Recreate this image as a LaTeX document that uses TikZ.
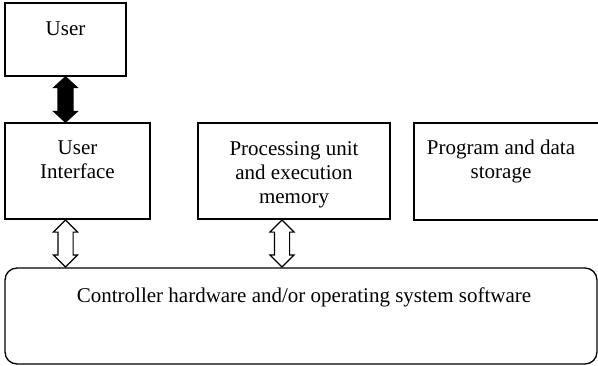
\documentclass[tikz,border=0pt]{standalone}
\usepackage{fontspec}
\setmainfont{Liberation Serif}
\usetikzlibrary{shapes.arrows,calc}

\tikzset{
  box/.style={draw, rectangle, line width=1.3pt, inner sep=0pt},
  txt/.style={font=\fontsize{21}{24}\selectfont, align=center, inner sep=0pt},
  solidarrow/.style={double arrow, rotate=90, fill=black, inner xsep=0pt, inner ysep=8pt,
    double arrow head extend=5pt, double arrow tip angle=95},
  hollowarrow/.style={double arrow, rotate=90, draw, fill=white, line width=1.1pt,
    inner xsep=0pt, inner ysep=7pt, double arrow head extend=4.5pt, double arrow tip angle=90}
}

\begin{document}
\begin{tikzpicture}[x=1pt, y=-1pt]

    \clip (0,0) rectangle (598,365);

    % Boxes
    \node[box, minimum width=121pt, minimum height=73pt] at (65.5,39.5) (user) {};
    \node[box, minimum width=145pt, minimum height=96pt] at (77.5,171) (ui) {};
    \node[box, minimum width=192pt, minimum height=96pt] at (294,171) (pu) {};
    \node[box, minimum width=188pt, minimum height=97pt] at (508,171.5) (ps) {};
    \node[box, rounded corners=12pt, minimum width=592pt, minimum height=96pt] at (301,316) (ctrl) {};

    % Texts
    \node[txt, anchor=base] at (65.5,35) (userT) {User};
    \node[txt, anchor=north] at (77.5,141) (uiT) {User\\Interface};
    \node[txt, anchor=north] at (294,141) (puT) {Processing unit\\and execution\\memory};
    \node[txt, anchor=north] at (501,140) (psT) {Program and data\\storage};
    \node[txt, anchor=north] at (304,288) (ctrlT) {Controller hardware and/or operating system software};

    % Arrows
    \node[solidarrow, minimum height=47pt] at ($(user.south)!0.5!(user.south |- ui.north)$) (a0) {};
    \node[hollowarrow, minimum height=47pt] at ($(ui.south -| user.south)!0.5!(ctrl.north -| user.south)$) (a1) {};
    \node[hollowarrow, minimum height=47pt] at ($(pu.south)!0.5!(pu.south |- ctrl.north) + (-12,0)$) (a2) {};

\end{tikzpicture}
\end{document}
